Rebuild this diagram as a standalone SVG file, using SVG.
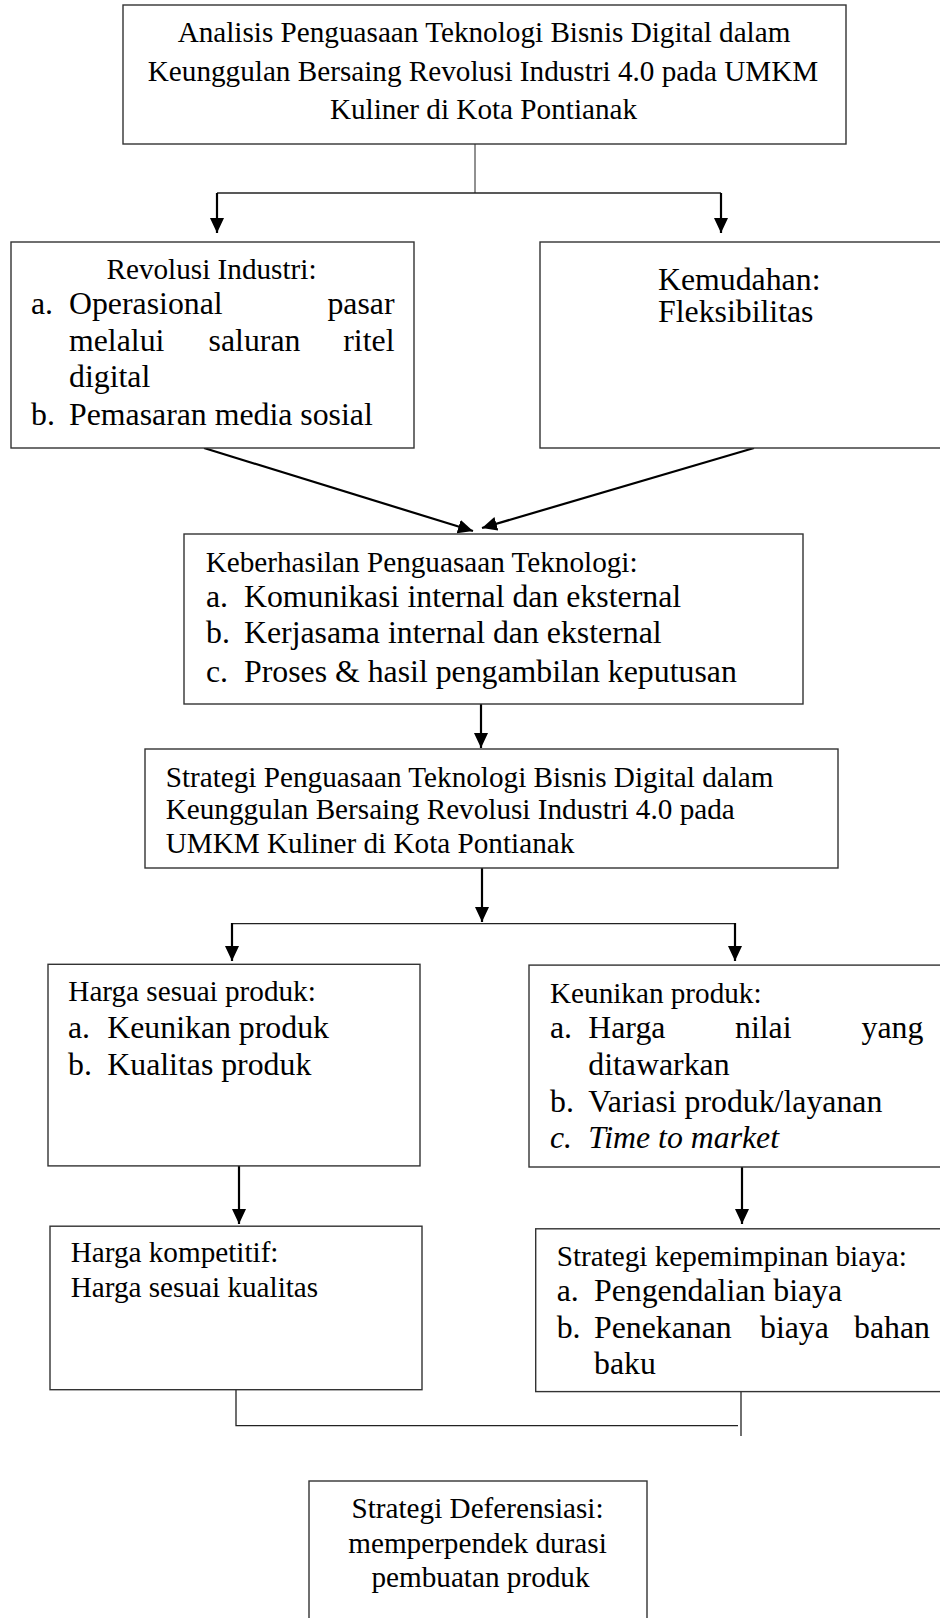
<svg xmlns="http://www.w3.org/2000/svg" width="940" height="1618" viewBox="0 0 940 1618">
<defs>
<style>
.box{fill:#fff;stroke:#333;stroke-width:1.4}
text{font-family:"Liberation Serif","Times New Roman",serif;fill:#000}
.s{font-size:29.2px}
.l{font-size:31.8px}
.i{font-style:italic}
.c{text-anchor:middle}
.e{text-anchor:end}
.thin{fill:none;stroke:#222;stroke-width:1.3}
.arr{fill:none;stroke:#000;stroke-width:2.2;marker-end:url(#ah)}
</style>
<marker id="ah" markerUnits="userSpaceOnUse" markerWidth="16" markerHeight="15" refX="15" refY="7" orient="auto">
<path d="M0,0 L15,7 L0,14 z" fill="#000"/>
</marker>
</defs>
<rect width="940" height="1618" fill="#fff"/>

<g id="connectors">
<line class="thin" x1="475" y1="144" x2="475" y2="193" style="stroke-width:1"/>
<line class="thin" x1="217" y1="193" x2="721" y2="193"/>
<line class="arr" x1="217" y1="193" x2="217" y2="233"/>
<line class="arr" x1="721" y1="193" x2="721" y2="233"/>
<line class="arr" x1="204" y1="448" x2="473" y2="531"/>
<line class="arr" x1="754" y1="448" x2="482" y2="528"/>
<line class="arr" x1="481" y1="704" x2="481" y2="748"/>
<line class="arr" x1="482" y1="868" x2="482" y2="922"/>
<line class="thin" x1="232" y1="923.6" x2="735" y2="923.6"/>
<line class="arr" x1="232" y1="923" x2="232" y2="961"/>
<line class="arr" x1="735" y1="923" x2="735" y2="961"/>
<line class="arr" x1="239" y1="1166" x2="239" y2="1224"/>
<line class="arr" x1="742" y1="1167" x2="742" y2="1224"/>
<polyline class="thin" points="236,1390 236,1425.6 738,1425.6"/>
<line class="thin" x1="741" y1="1392" x2="741" y2="1436"/>
</g>

<g id="node-analisis">
<rect class="box" x="123" y="5" width="723" height="139"/>
<text class="s c" x="484" y="42">Analisis Penguasaan Teknologi Bisnis Digital dalam</text>
<text class="s c" x="483" y="81">Keunggulan Bersaing Revolusi Industri 4.0 pada UMKM</text>
<text class="s c" x="483.5" y="119">Kuliner di Kota Pontianak</text>
</g>

<g id="node-revolusi">
<rect class="box" x="11" y="242" width="403" height="206"/>
<text class="s c" x="211.5" y="279">Revolusi Industri:</text>
<text class="l" y="314"><tspan x="31">a.</tspan><tspan x="69">Operasional</tspan></text>
<text class="l e" x="394.5" y="314">pasar</text>
<text class="l" y="351"><tspan x="69">melalui</tspan><tspan x="208.6">saluran</tspan></text>
<text class="l e" x="394.5" y="351">ritel</text>
<text class="l" x="69" y="387">digital</text>
<text class="l" y="425"><tspan x="31">b.</tspan><tspan x="69">Pemasaran media sosial</tspan></text>
</g>

<g id="node-kemudahan">
<rect class="box" x="540" y="242" width="410" height="206"/>
<text class="l" x="658" y="290">Kemudahan:</text>
<text class="l" x="658" y="322">Fleksibilitas</text>
</g>

<g id="node-keberhasilan">
<rect class="box" x="184" y="534" width="619" height="170"/>
<text class="s" x="205.7" y="571.7">Keberhasilan Penguasaan Teknologi:</text>
<text class="l" y="606.7"><tspan x="206">a.</tspan><tspan x="244">Komunikasi internal dan eksternal</tspan></text>
<text class="l" y="643"><tspan x="206">b.</tspan><tspan x="244">Kerjasama internal dan eksternal</tspan></text>
<text class="l" y="681.7"><tspan x="206">c.</tspan><tspan x="244">Proses &amp; hasil pengambilan keputusan</tspan></text>
</g>

<g id="node-strategi">
<rect class="box" x="145" y="749" width="693" height="119"/>
<text class="s" x="165.7" y="786.7">Strategi Penguasaan Teknologi Bisnis Digital dalam</text>
<text class="s" x="165.7" y="819.3">Keunggulan Bersaing Revolusi Industri 4.0 pada</text>
<text class="s" x="165.7" y="853.3">UMKM Kuliner di Kota Pontianak</text>
</g>

<g id="node-harga-sesuai">
<rect class="box" x="48" y="964.3" width="372" height="201.6"/>
<text class="s" x="68.3" y="1001.3">Harga sesuai produk:</text>
<text class="l" y="1037.6"><tspan x="68">a.</tspan><tspan x="107.3">Keunikan produk</tspan></text>
<text class="l" y="1074.6"><tspan x="68">b.</tspan><tspan x="107.3">Kualitas produk</tspan></text>
</g>

<g id="node-keunikan">
<rect class="box" x="529" y="965.1" width="420" height="201.9"/>
<text class="s" x="550" y="1003.2">Keunikan produk:</text>
<text class="l" y="1038.3"><tspan x="550">a.</tspan><tspan x="588.3">Harga</tspan><tspan x="735">nilai</tspan></text>
<text class="l e" x="923.3" y="1038.3">yang</text>
<text class="l" x="588.3" y="1074.6">ditawarkan</text>
<text class="l" y="1112.3"><tspan x="550">b.</tspan><tspan x="588.3">Variasi produk/layanan</tspan></text>
<text class="l i" y="1148.2"><tspan x="550">c.</tspan><tspan x="588.3">Time to market</tspan></text>
</g>

<g id="node-harga-kompetitif">
<rect class="box" x="50" y="1226.2" width="372" height="163.5"/>
<text class="s" x="70.7" y="1262.1">Harga kompetitif:</text>
<text class="s" x="70.7" y="1297.2">Harga sesuai kualitas</text>
</g>

<g id="node-kepemimpinan">
<rect class="box" x="535.7" y="1228.8" width="415" height="162.8"/>
<text class="s" x="556.7" y="1265.8">Strategi kepemimpinan biaya:</text>
<text class="l" y="1300.9"><tspan x="556.7">a.</tspan><tspan x="594">Pengendalian biaya</tspan></text>
<text class="l" y="1337.9"><tspan x="556.7">b.</tspan><tspan x="594">Penekanan</tspan><tspan x="760">biaya</tspan></text>
<text class="l e" x="930" y="1337.9">bahan</text>
<text class="l" x="594" y="1373.8">baku</text>
</g>

<g id="node-deferensiasi">
<rect class="box" x="309" y="1481" width="338" height="160"/>
<text class="s c" x="477.5" y="1518">Strategi Deferensiasi:</text>
<text class="s c" x="477.5" y="1552.7">memperpendek durasi</text>
<text class="s c" x="480.5" y="1586.7">pembuatan produk</text>
</g>
</svg>
